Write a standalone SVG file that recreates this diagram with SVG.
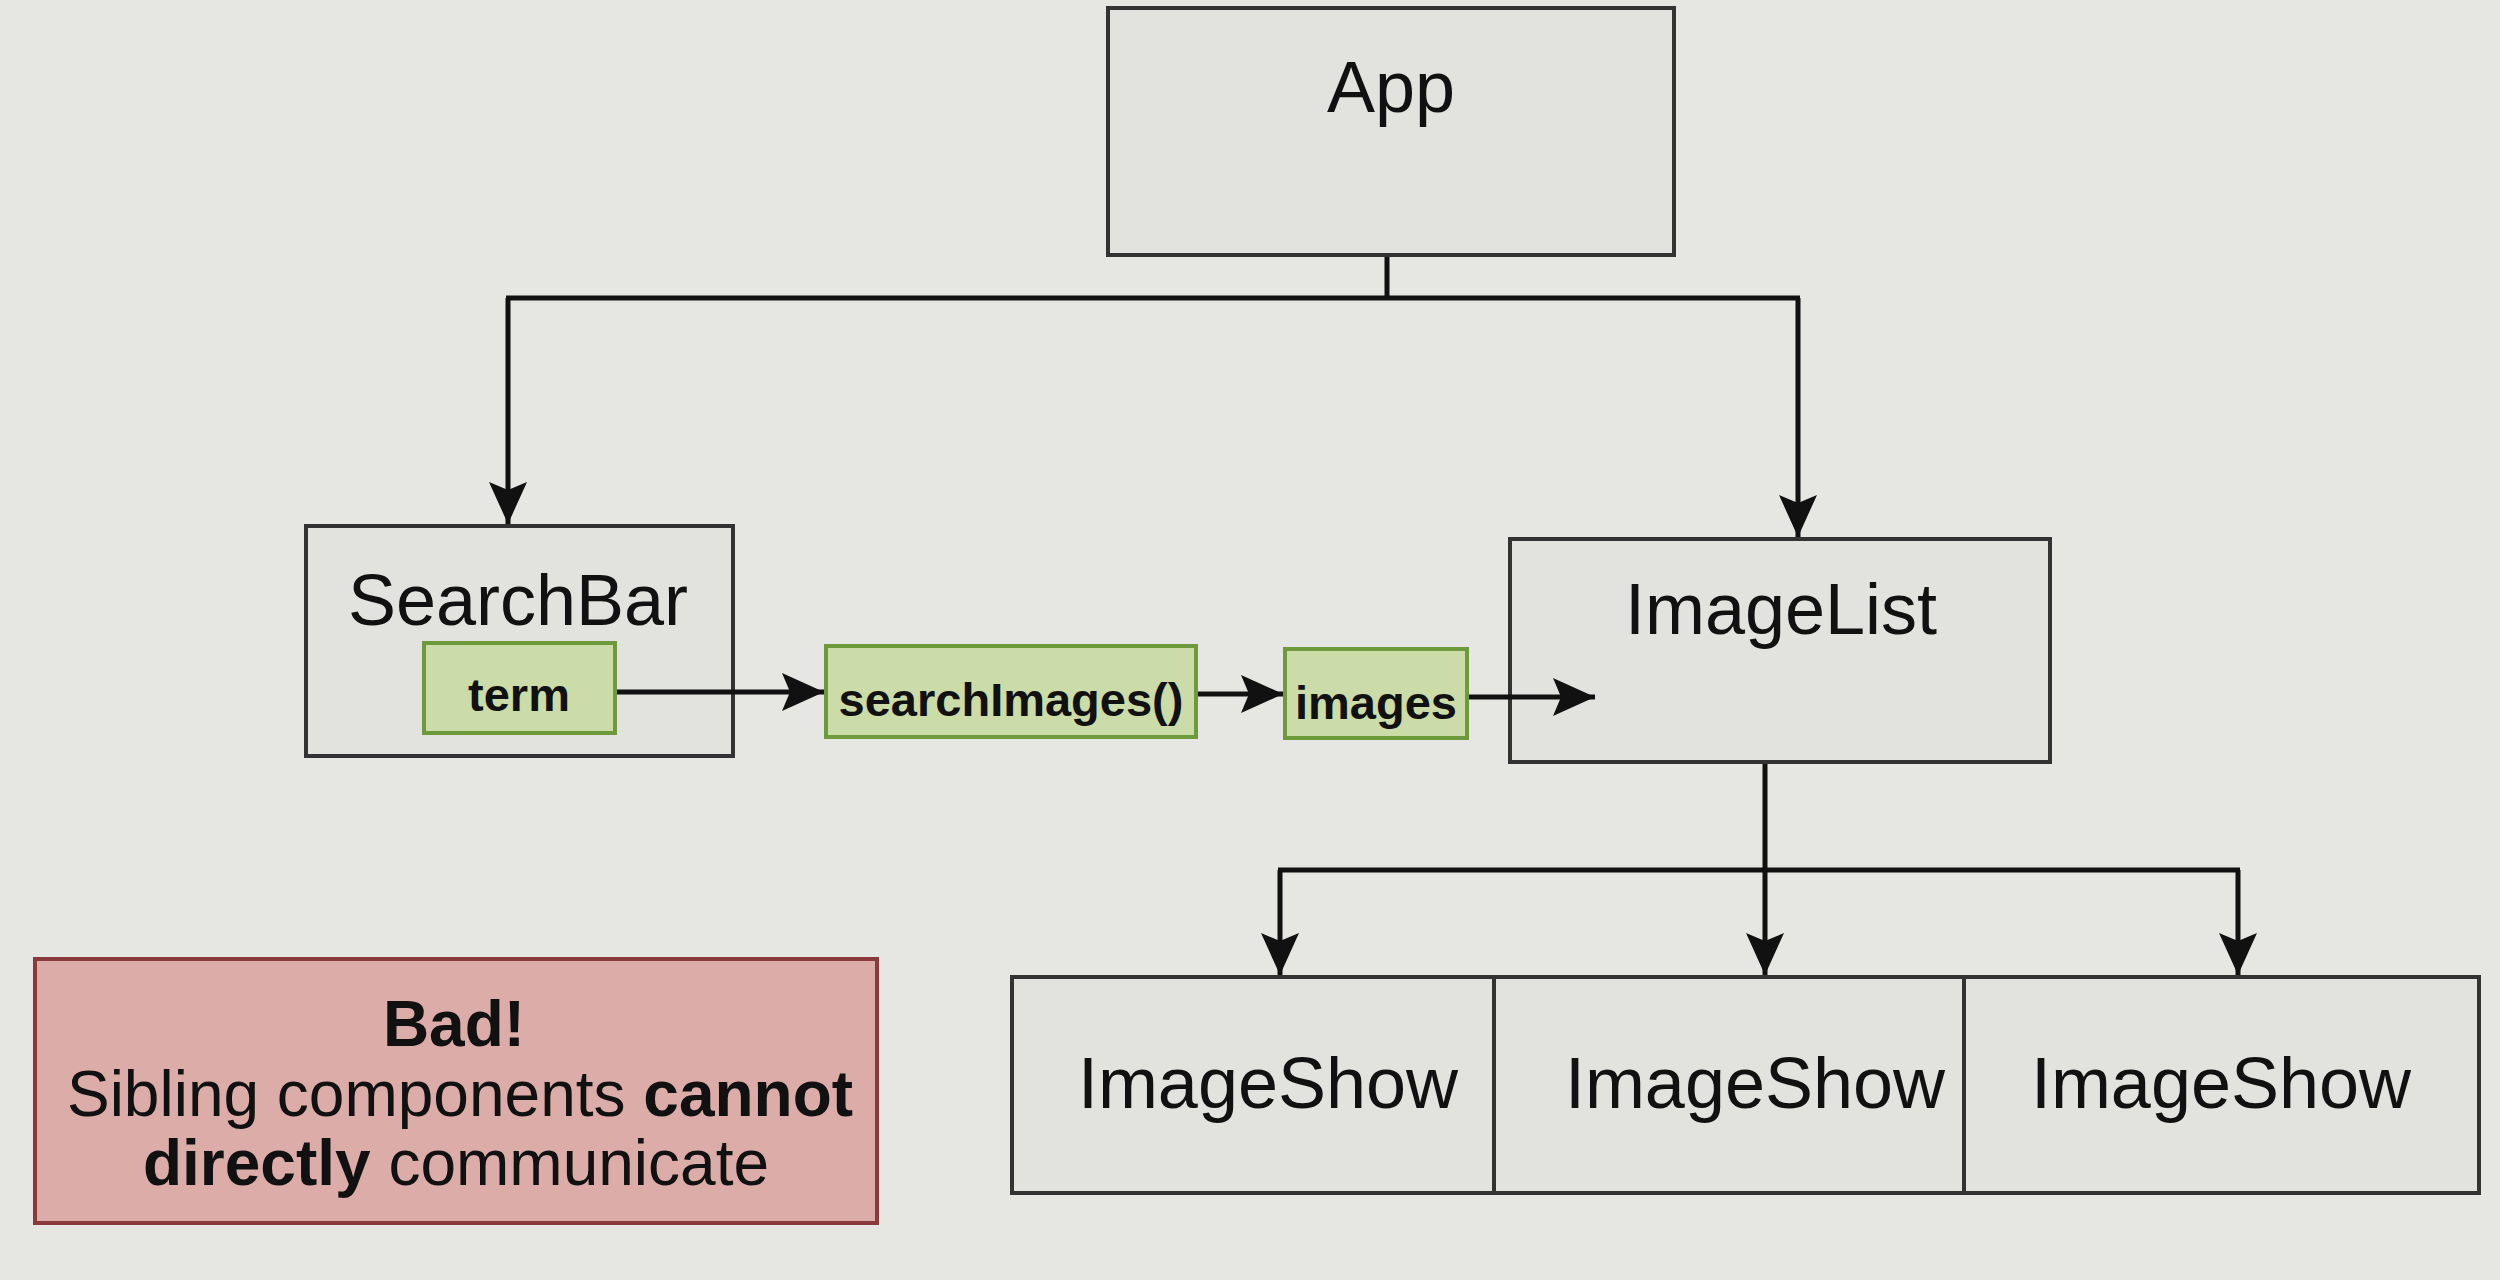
<svg xmlns="http://www.w3.org/2000/svg" width="2500" height="1280" viewBox="0 0 2500 1280">
<style>
.box{fill:#e2e2de;stroke:#333;stroke-width:4}
.green{fill:#cbdca8;stroke:#6f9a3c;stroke-width:4}
.bad{fill:#dcaca8;stroke:#8a3a3a;stroke-width:4}
.t{font-family:"Liberation Sans",Arial,sans-serif;fill:#111;text-anchor:middle}
.big{font-size:72px}
.lbl{font-size:47px;font-weight:bold}
.note{font-size:64px}
.b{font-weight:bold}
.c{fill:none;stroke:#111;stroke-width:5}
</style>
<defs>
<marker id="arr" markerWidth="42" markerHeight="38" refX="42" refY="19" orient="auto" markerUnits="userSpaceOnUse">
<path d="M0,0 L42,19 L0,38 L8,19 Z" fill="#111"/>
</marker>
</defs>
<rect width="2500" height="1280" fill="#e6e6e2"/>
<g id="app">
<rect class="box" x="1108" y="8" width="566" height="247"/>
<text class="t big" x="1391" y="112">App</text>
</g>
<g id="searchbar">
<rect class="box" x="306" y="526" width="427" height="230"/>
<text class="t big" x="518" y="625">SearchBar</text>
</g>
<g id="term">
<rect class="green" x="424" y="643" width="191" height="90"/>
<text class="t lbl" x="519" y="711">term</text>
</g>
<g id="searchImages">
<rect class="green" x="826" y="646" width="370" height="91"/>
<text class="t lbl" x="1011" y="716">searchImages()</text>
</g>
<g id="images">
<rect class="green" x="1285" y="649" width="182" height="89"/>
<text class="t lbl" x="1376" y="719">images</text>
</g>
<g id="imagelist">
<rect class="box" x="1510" y="539" width="540" height="223"/>
<text class="t big" x="1781" y="634">ImageList</text>
</g>
<g id="imageshow1">
<rect class="box" x="1012" y="977" width="482" height="216"/>
<text class="t big" x="1268" y="1108">ImageShow</text>
</g>
<g id="imageshow2">
<rect class="box" x="1494" y="977" width="470" height="216"/>
<text class="t big" x="1755" y="1108">ImageShow</text>
</g>
<g id="imageshow3">
<rect class="box" x="1964" y="977" width="515" height="216"/>
<text class="t big" x="2221" y="1108">ImageShow</text>
</g>
<g id="bad">
<rect class="bad" x="35" y="959" width="842" height="264"/>
<text class="t note b" x="454" y="1046">Bad!</text>
<text class="t note" x="460" y="1116">Sibling components <tspan class="b">cannot</tspan></text>
<text class="t note" x="456" y="1185"><tspan class="b">directly</tspan> communicate</text>
</g>
<g id="connectors">
<path class="c" d="M1387,257 V298"/>
<path class="c" d="M506,298 H1800"/>
<path class="c" d="M508,298 V524" marker-end="url(#arr)"/>
<path class="c" d="M1798,298 V537" marker-end="url(#arr)"/>
<path class="c" d="M617,692 H824" marker-end="url(#arr)"/>
<path class="c" d="M1198,694 H1283" marker-end="url(#arr)"/>
<path class="c" d="M1469,697 H1595" marker-end="url(#arr)"/>
<path class="c" d="M1765,764 V975" marker-end="url(#arr)"/>
<path class="c" d="M1278,870 H2240"/>
<path class="c" d="M1280,870 V975" marker-end="url(#arr)"/>
<path class="c" d="M2238,870 V975" marker-end="url(#arr)"/>
</g>
</svg>
